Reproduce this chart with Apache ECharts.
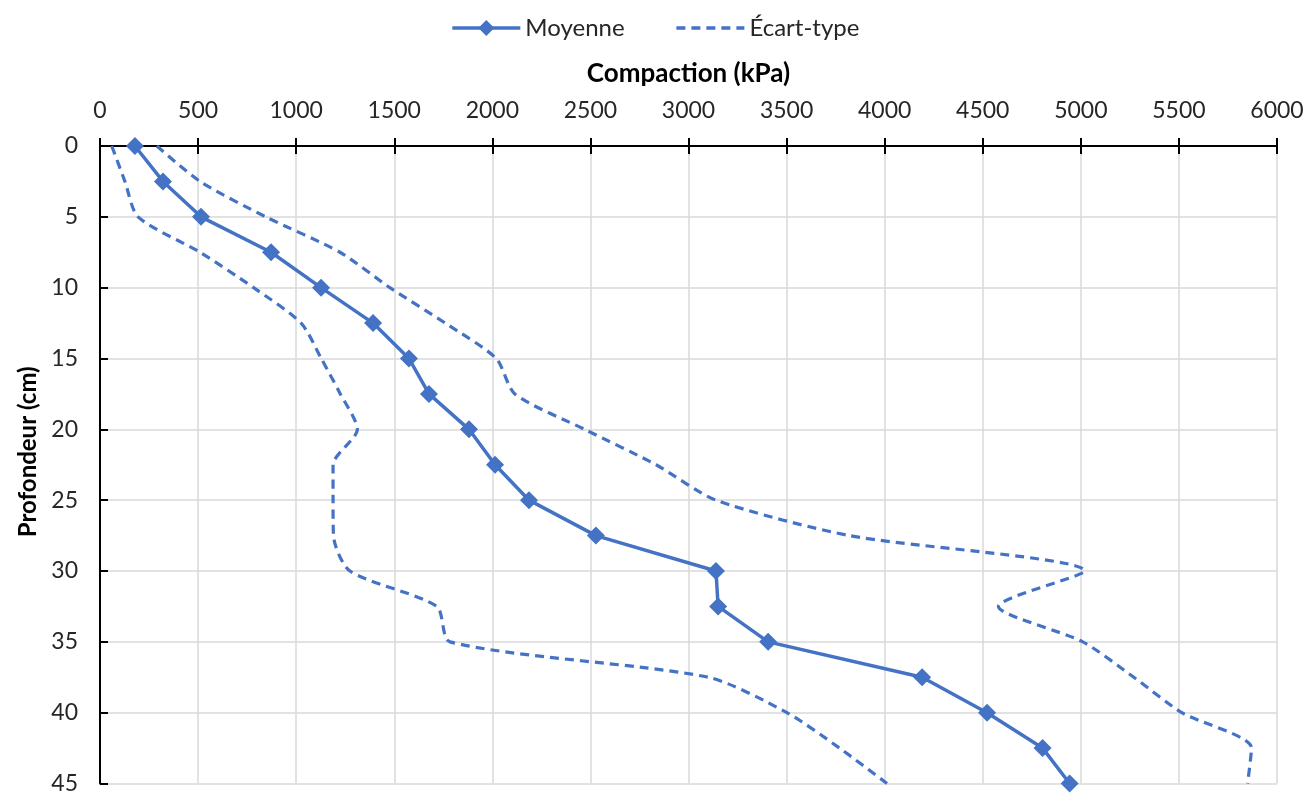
<!DOCTYPE html>
<html>
<head>
<meta charset="utf-8">
<script src="https://cdn.jsdelivr.net/npm/echarts@6/dist/echarts.min.js"></script>
<style>
html,body{margin:0;padding:0;background:#fff;}
#chart{width:1310px;height:795px;}
</style>
</head>
<body>
<div id="chart"></div>
<script>
// Depth (cm)
const depths = [0, 2.5, 5, 7.5, 10, 12.5, 15, 17.5, 20, 22.5, 25, 27.5, 30, 32.5, 35, 37.5, 40, 42.5, 45];
// Moyenne (kPa)
const moyenne = [178, 321, 515, 872, 1127, 1392, 1575, 1677, 1881, 2014, 2187, 2528, 3140, 3151, 3406, 4191, 4522, 4805, 4943];
// Écart-type lower bound (kPa)
const ecartBas = [60, 127, 194, 510, 783, 1025, 1128, 1225, 1312, 1188, 1188, 1190, 1274, 1717, 1784, 3100, 3502, 3770, 4012];
// Écart-type upper bound (kPa)
const ecartHaut = [290, 510, 845, 1223, 1478, 1760, 2020, 2115, 2470, 2835, 3140, 3820, 5020, 4580, 5010, 5270, 5515, 5870, 5850];

const FONT = 'Lato';
const BLUE = '#4472C4';
const pair = (xs) => xs.map((x, i) => [x, depths[i]]);

const chart = echarts.init(document.getElementById('chart'), null, {renderer: 'canvas'});
chart.setOption({
  animation: false,
  backgroundColor: '#ffffff',
  textStyle: {fontFamily: FONT},
  legend: {
    top: 11,
    left: 'center',
    itemWidth: 68,
    itemHeight: 20,
    itemGap: 50,
    itemTextGap: 8,
    lineStyle: {width: 3.5},
    textStyle: {fontSize: 24, color: '#262626', fontFamily: FONT},
    data: [
      {name: 'Moyenne'},
      {name: 'Écart-type', itemStyle: {opacity: 0}}
    ]
  },
  grid: {left: 100, right: 33, top: 146, bottom: 8, containLabel: false},
  xAxis: [{
    type: 'value',
    position: 'top',
    min: 0, max: 6000, interval: 500,
    name: 'Compaction (kPa)',
    nameLocation: 'middle',
    nameGap: 59,
    nameTextStyle: {fontSize: 26, fontWeight: 'bold', color: '#000', fontFamily: FONT},
    axisLine: {show: true, lineStyle: {color: '#000', width: 2}},
    axisTick: {show: true, length: 8, lineStyle: {color: '#000', width: 2}},
    axisLabel: {fontSize: 23, color: '#262626', margin: 24, fontFamily: FONT,
      formatter: (v) => String(v)},
    splitLine: {show: true, lineStyle: {color: '#d9d9d9', width: 1.5}}
  }, {
    type: 'value',
    position: 'top',
    min: 0, max: 6000, interval: 500,
    axisLine: {show: false},
    axisTick: {show: true, inside: true, length: 8, lineStyle: {color: '#000', width: 2}},
    axisLabel: {show: false},
    splitLine: {show: false}
  }],
  yAxis: {
    type: 'value',
    inverse: true,
    min: 0, max: 45, interval: 5,
    name: 'Profondeur (cm)',
    nameLocation: 'middle',
    nameGap: 58,
    nameTextStyle: {fontSize: 24, fontWeight: 'bold', color: '#000', fontFamily: FONT,
      padding: [0, 0, 0, 26]},
    axisLine: {show: true, lineStyle: {color: '#000', width: 2}},
    axisTick: {show: true, inside: true, length: 8, lineStyle: {color: '#000', width: 2}},
    axisLabel: {fontSize: 23, color: '#262626', margin: 22, fontFamily: FONT,
      formatter: (v) => String(v)},
    splitLine: {show: true, lineStyle: {color: '#d9d9d9', width: 1.5}}
  },
  series: [
    {
      name: 'Écart-type',
      type: 'line',
      data: pair(ecartBas),
      smooth: 0.25,
      showSymbol: false,
      symbol: 'none',
      lineStyle: {color: BLUE, width: 3.2, type: [9, 6]},
      itemStyle: {color: BLUE},
      z: 2
    },
    {
      name: 'Écart-type',
      type: 'line',
      data: pair(ecartHaut),
      smooth: 0.25,
      showSymbol: false,
      symbol: 'none',
      lineStyle: {color: BLUE, width: 3.2, type: [9, 6]},
      itemStyle: {color: BLUE},
      z: 2
    },
    {
      name: 'Moyenne',
      type: 'line',
      data: pair(moyenne),
      symbol: 'diamond',
      symbolSize: 18,
      lineStyle: {color: BLUE, width: 3.5},
      itemStyle: {color: BLUE},
      z: 3
    }
  ]
});
</script>
</body>
</html>
